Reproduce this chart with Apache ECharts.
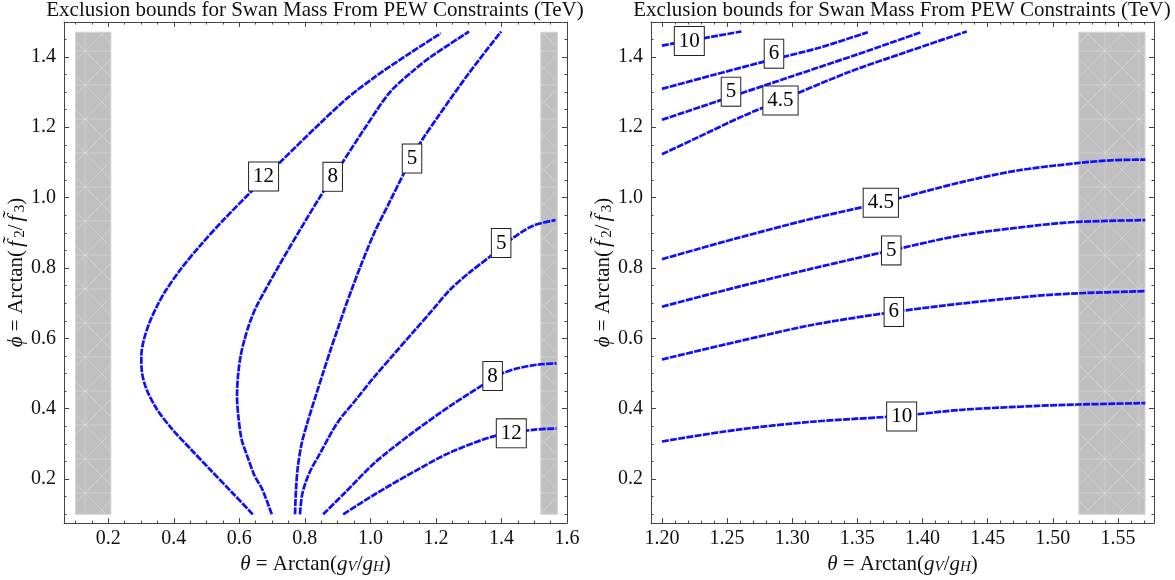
<!DOCTYPE html>
<html>
<head>
<meta charset="utf-8">
<script src="https://cdn.jsdelivr.net/npm/echarts@6/dist/echarts.min.js"></script>
<style>
  html, body { margin: 0; padding: 0; background: #fff; }
  #main { width: 1175px; height: 580px; }
</style>
</head>
<body>
<div id="main"></div>
<script>
var titleText = 'Exclusion bounds for Swan Mass From PEW Constraints (TeV)';

// ---- left panel: contours over the full theta range ----
var leftC12a = [[0.641,0.100],[0.578,0.162],[0.510,0.228],[0.452,0.285],[0.395,0.342],[0.349,0.398],
  [0.317,0.455],[0.303,0.503],[0.301,0.550],[0.309,0.597],[0.326,0.645],[0.349,0.692],[0.375,0.735],
  [0.420,0.795],[0.480,0.863],[0.550,0.935],[0.634,1.015],[0.722,1.098],[0.842,1.207],[0.930,1.283],
  [1.014,1.343],[1.120,1.410],[1.215,1.467]];
var leftC8a = [[0.699,0.100],[0.670,0.171],[0.647,0.209],[0.624,0.266],[0.607,0.313],[0.597,0.379],
  [0.593,0.436],[0.596,0.493],[0.604,0.550],[0.616,0.597],[0.632,0.645],[0.653,0.692],[0.717,0.800],
  [0.780,0.900],[0.845,1.000],[0.915,1.100],[0.985,1.200],[1.060,1.300],[1.130,1.360],[1.186,1.401],
  [1.301,1.472]];
var leftC5a = [[0.770,0.100],[0.773,0.171],[0.779,0.238],[0.791,0.304],[0.808,0.361],[0.833,0.436],
  [0.856,0.503],[0.879,0.569],[0.900,0.626],[0.921,0.683],[0.943,0.739],[0.970,0.805],[1.012,0.900],
  [1.060,0.990],[1.103,1.070],[1.152,1.155],[1.207,1.231],[1.301,1.354],[1.399,1.472]];
var leftC5b = [[0.785,0.100],[0.791,0.152],[0.802,0.190],[0.819,0.228],[0.842,0.266],[0.900,0.361],
  [0.957,0.427],[1.014,0.493],[1.072,0.555],[1.129,0.616],[1.187,0.678],[1.244,0.739],[1.301,0.786],
  [1.370,0.836],[1.427,0.880],[1.496,0.920],[1.565,0.936]];
var leftC8b = [[0.856,0.100],[0.923,0.162],[1.014,0.247],[1.129,0.332],[1.244,0.408],[1.347,0.470],
  [1.402,0.500],[1.450,0.515],[1.508,0.525],[1.568,0.529]];
var leftC12b = [[0.917,0.100],[1.014,0.157],[1.129,0.219],[1.244,0.276],[1.381,0.323],[1.496,0.340],
  [1.568,0.344]];
var leftLabels = [[0.674,1.060,'12'],[0.885,1.059,'8'],[1.127,1.111,'5'],[1.399,0.871,'5'],
  [1.373,0.493,'8'],[1.430,0.330,'12']];
var leftBands = [[0.1,0.208],[1.52,1.5708]];

// ---- right panel: zoom on theta > 1.2 ----
var rightC10a = [[1.200,1.432],[1.261,1.472]];
var rightC6a = [[1.200,1.309],[1.240,1.349],[1.280,1.388],[1.320,1.425],[1.358,1.470]];
var rightC5a = [[1.200,1.221],[1.250,1.283],[1.300,1.345],[1.350,1.407],[1.399,1.470]];
var rightC45a = [[1.200,1.123],[1.228,1.172],[1.263,1.233],[1.291,1.276],[1.343,1.356],[1.387,1.413],[1.434,1.472]];
var rightC45b = [[1.200,0.825],[1.257,0.884],[1.315,0.940],[1.368,0.985],[1.430,1.044],[1.473,1.077],
  [1.519,1.098],[1.545,1.106],[1.571,1.108]];
var rightC5b = [[1.200,0.690],[1.257,0.745],[1.315,0.798],[1.376,0.850],[1.430,0.893],[1.488,0.921],
  [1.519,0.931],[1.571,0.936]];
var rightC6b = [[1.200,0.540],[1.257,0.590],[1.315,0.638],[1.378,0.675],[1.430,0.699],[1.488,0.721],
  [1.519,0.728],[1.571,0.734]];
var rightC10b = [[1.200,0.307],[1.257,0.340],[1.315,0.363],[1.384,0.380],[1.430,0.397],[1.488,0.408],
  [1.519,0.412],[1.571,0.416]];
var rightLabels = [[1.221,1.445,'10'],[1.286,1.409,'6'],[1.253,1.301,'5'],[1.291,1.276,'4.5'],
  [1.368,0.985,'4.5'],[1.376,0.850,'5'],[1.378,0.675,'6'],[1.384,0.378,'10']];
var rightBands = [[1.52,1.5708]];

var bandY = [0.1, 1.47];

// ---- ticks ----
var leftXTicks = [0.2, 0.4, 0.6, 0.8, 1.0, 1.2, 1.4, 1.6];
var rightXTicks = [1.20, 1.25, 1.30, 1.35, 1.40, 1.45, 1.50, 1.55];
var yTicks = [0.2, 0.4, 0.6, 0.8, 1.0, 1.2, 1.4];

function steps(a, b, d) {
  var out = [];
  for (var v = a; v <= b + 1e-9; v += d) out.push(Math.round(v * 1000) / 1000);
  return out;
}
var leftXMinor = steps(0.1, 1.6, 0.05);
var rightXMinor = steps(1.2, 1.57, 0.01);
var yMinor = steps(0.1, 1.45, 0.05);

var serif = 'Liberation Serif';
var frameColor = '#444';

// faint mesh texture for the excluded bands
function bandPattern() {
  var c = document.createElement('canvas');
  c.width = 34; c.height = 34;
  var g = c.getContext('2d');
  g.fillStyle = '#c0c0c0';
  g.fillRect(0, 0, 34, 34);
  g.strokeStyle = 'rgba(255,255,255,0.28)';
  g.lineWidth = 0.8;
  g.beginPath();
  g.moveTo(0, 0); g.lineTo(34, 34);
  g.moveTo(34, 0); g.lineTo(0, 34);
  g.moveTo(0, 17); g.lineTo(34, 17);
  g.moveTo(17, 0); g.lineTo(17, 34);
  g.stroke();
  return { type: 'pattern', image: c, repeat: 'repeat' };
}
var bandFill = bandPattern();

var nameRich = {
  i: { fontFamily: serif, fontSize: 21, fontStyle: 'italic', color: '#111' },
  f: { fontFamily: serif, fontSize: 22, fontStyle: 'italic', color: '#111', padding: [0, 3, 0, 3] },
  s: { fontFamily: serif, fontSize: 15, fontStyle: 'italic', color: '#111', verticalAlign: 'bottom', lineHeight: 12 },
  n: { fontFamily: serif, fontSize: 15, color: '#111', verticalAlign: 'bottom', lineHeight: 12 }
};
var xName = '{i|θ} = Arctan({i|g}{s|V}/{i|g}{s|H})';
var yName = '{i|ϕ} = Arctan({f|f\u0303}{n|2}/{f|f\u0303}{n|3})';

// four framed edges per panel: main axis + minor-tick copy on each side
function makeAxes(dim, grid, min, max, major, minor, digits, withName) {
  var lo = dim === 'x' ? 'bottom' : 'left';
  var hi = dim === 'x' ? 'top' : 'right';
  var base = {
    type: 'value', gridIndex: grid, min: min, max: max,
    splitLine: { show: false }
  };
  var axes = [];
  [lo, hi].forEach(function (pos) {
    var main = Object.assign({}, base, {
      position: pos,
      axisLine: { show: true, onZero: false, lineStyle: { color: frameColor, width: 1 } },
      axisTick: { show: true, inside: true, length: 5, customValues: major, lineStyle: { color: frameColor } },
      axisLabel: {
        show: pos === lo, customValues: major,
        formatter: function (v) { return v.toFixed(digits); },
        fontFamily: serif, fontSize: 20, color: '#111', margin: dim === 'x' ? 6 : 8
      }
    });
    if (pos === lo && withName) {
      Object.assign(main, {
        name: dim === 'x' ? xName : yName,
        nameLocation: 'middle',
        nameGap: dim === 'x' ? 29 : 35,
        nameTextStyle: { fontFamily: serif, fontSize: 21, color: '#111', rich: nameRich }
      });
    }
    axes.push(main);
    axes.push(Object.assign({}, base, {
      position: pos,
      axisLine: { show: false, onZero: false },
      axisTick: { show: true, inside: true, length: 2.5, customValues: minor, lineStyle: { color: frameColor } },
      axisLabel: { show: false }
    }));
  });
  return axes;
}

var xAxes = makeAxes('x', 0, 0.065, 1.6, leftXTicks, leftXMinor, 1, true)
  .concat(makeAxes('x', 1, 1.1916, 1.5777, rightXTicks, rightXMinor, 2, true));
var yAxes = makeAxes('y', 0, 0.075, 1.499, yTicks, yMinor, 1, true)
  .concat(makeAxes('y', 1, 0.075, 1.499, yTicks, yMinor, 1, true));
// main axis of panel 0 is index 0, of panel 1 is index 4

function bandSeries(bands, axisIdx) {
  return {
    type: 'custom', xAxisIndex: axisIdx, yAxisIndex: axisIdx, z: 1, silent: true,
    data: bands.map(function (b) { return [b[0], b[1], bandY[0], bandY[1]]; }),
    renderItem: function (params, api) {
      var p0 = api.coord([api.value(0), api.value(3)]);
      var p1 = api.coord([api.value(1), api.value(2)]);
      return {
        type: 'rect',
        shape: { x: p0[0], y: p0[1], width: p1[0] - p0[0], height: p1[1] - p0[1] },
        style: { fill: bandFill, stroke: '#d4d4d4', lineWidth: 1 }
      };
    }
  };
}

function curve(data, axisIdx) {
  return {
    type: 'line', xAxisIndex: axisIdx, yAxisIndex: axisIdx, data: data, z: 3,
    showSymbol: false, smooth: 0.3, silent: true,
    lineStyle: { color: '#0f0fff', width: 2.7, type: [7, 1.3] }
  };
}

function labelSeries(labels, axisIdx) {
  return {
    type: 'scatter', xAxisIndex: axisIdx, yAxisIndex: axisIdx, z: 5, silent: true,
    symbolSize: 0, data: labels,
    itemStyle: { opacity: 1 },
    label: {
      show: true, position: 'inside', opacity: 1,
      formatter: function (p) { return p.data[2]; },
      fontFamily: serif, fontSize: 21, color: '#000', lineHeight: 22,
      backgroundColor: '#fff', borderColor: '#222', borderWidth: 1, padding: [3, 4, 3, 4]
    }
  };
}

var myChart = echarts.init(document.getElementById('main'));

var option = {
  animation: false,
  backgroundColor: '#fff',
  title: [
    { text: titleText, left: 315, top: 0, padding: 0, textAlign: 'center',
      textStyle: { fontFamily: serif, fontSize: 21, fontWeight: 'normal', color: '#111' } },
    { text: titleText, left: 902, top: 0, padding: 0, textAlign: 'center',
      textStyle: { fontFamily: serif, fontSize: 21, fontWeight: 'normal', color: '#111' } }
  ],
  grid: [
    { left: 64, right: 608, top: 22, bottom: 56 },
    { left: 651, right: 21, top: 22, bottom: 56 }
  ],
  xAxis: xAxes,
  yAxis: yAxes,
  series: [
    bandSeries(leftBands, 0),
    curve(leftC12a, 0), curve(leftC8a, 0), curve(leftC5a, 0),
    curve(leftC5b, 0), curve(leftC8b, 0), curve(leftC12b, 0),
    labelSeries(leftLabels, 0),
    bandSeries(rightBands, 4),
    curve(rightC10a, 4), curve(rightC6a, 4), curve(rightC5a, 4), curve(rightC45a, 4),
    curve(rightC45b, 4), curve(rightC5b, 4), curve(rightC6b, 4), curve(rightC10b, 4),
    labelSeries(rightLabels, 4)
  ]
};

myChart.setOption(option);
</script>
</body>
</html>
